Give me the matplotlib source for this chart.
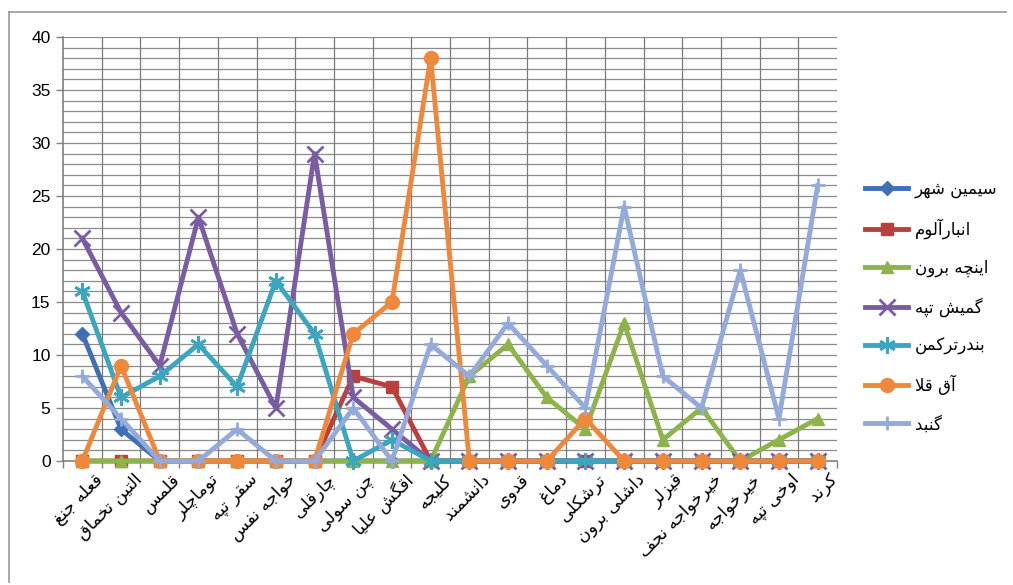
import matplotlib
matplotlib.use("Agg")
import matplotlib.pyplot as plt
from matplotlib.lines import Line2D

# ---------------- data ----------------
categories = ["قعله جنغ", "التین تخماق", "قلمس", "توماچلر", "سقر تپه", "خواجه نفس",
              "چارقلی", "چن سولی", "اقگش علیا", "کلیجه", "دانشمند", "قدوی", "دماغ",
              "ترشکلی", "داشلی برون", "قیزلر", "خیرخواجه نجف", "خیرخواجه", "اوخی تپه", "کرند"]

series_names = ["سیمین شهر", "انبارآلوم", "اینچه برون", "گمیش تپه", "بندرترکمن", "آق قلا", "گنبد"]

simin_shahr = [12, 3, 0, 0, 0, 0, 0, 0, 0, 0, 0, 0, 0, 0, 0, 0, 0, 0, 0, 0]
anbar_alum  = [0, 0, 0, 0, 0, 0, 0, 8, 7, 0, 0, 0, 0, 0, 0, 0, 0, 0, 0, 0]
incheh_borun = [0, 0, 0, 0, 0, 0, 0, 0, 0, 0, 8, 11, 6, 3, 13, 2, 5, 0, 2, 4]
gomishan    = [21, 14, 9, 23, 12, 5, 29, 6, 3, 0, 0, 0, 0, 0, 0, 0, 0, 0, 0, 0]
bandar_torkaman = [16, 6, 8, 11, 7, 17, 12, 0, 2, 0, 0, 0, 0, 0, 0, 0, 0, 0, 0, 0]
aq_qala     = [0, 9, 0, 0, 0, 0, 0, 12, 15, 38, 0, 0, 0, 4, 0, 0, 0, 0, 0, 0]
gonbad      = [8, 4, 0, 0, 3, 0, 0, 5, 0, 11, 8, 13, 9, 5, 24, 8, 5, 18, 4, 26]

y_ticks = [0, 5, 10, 15, 20, 25, 30, 35, 40]

# ---------------- simple Arabic/Persian shaping ----------------
FORMS = {
    'ا': ('\uFE8D', '\uFE8E', None, None), 'آ': ('\uFE81', '\uFE82', None, None),
    'ب': ('\uFE8F', '\uFE90', '\uFE91', '\uFE92'), 'پ': ('\uFB56', '\uFB57', '\uFB58', '\uFB59'),
    'ت': ('\uFE95', '\uFE96', '\uFE97', '\uFE98'), 'ث': ('\uFE99', '\uFE9A', '\uFE9B', '\uFE9C'),
    'ج': ('\uFE9D', '\uFE9E', '\uFE9F', '\uFEA0'), 'چ': ('\uFB7A', '\uFB7B', '\uFB7C', '\uFB7D'),
    'ح': ('\uFEA1', '\uFEA2', '\uFEA3', '\uFEA4'), 'خ': ('\uFEA5', '\uFEA6', '\uFEA7', '\uFEA8'),
    'د': ('\uFEA9', '\uFEAA', None, None), 'ذ': ('\uFEAB', '\uFEAC', None, None),
    'ر': ('\uFEAD', '\uFEAE', None, None), 'ز': ('\uFEAF', '\uFEB0', None, None),
    'ژ': ('\uFB8A', '\uFB8B', None, None),
    'س': ('\uFEB1', '\uFEB2', '\uFEB3', '\uFEB4'), 'ش': ('\uFEB5', '\uFEB6', '\uFEB7', '\uFEB8'),
    'ص': ('\uFEB9', '\uFEBA', '\uFEBB', '\uFEBC'), 'ض': ('\uFEBD', '\uFEBE', '\uFEBF', '\uFEC0'),
    'ط': ('\uFEC1', '\uFEC2', '\uFEC3', '\uFEC4'), 'ظ': ('\uFEC5', '\uFEC6', '\uFEC7', '\uFEC8'),
    'ع': ('\uFEC9', '\uFECA', '\uFECB', '\uFECC'), 'غ': ('\uFECD', '\uFECE', '\uFECF', '\uFED0'),
    'ف': ('\uFED1', '\uFED2', '\uFED3', '\uFED4'), 'ق': ('\uFED5', '\uFED6', '\uFED7', '\uFED8'),
    'ک': ('\uFB8E', '\uFB8F', '\uFB90', '\uFB91'), 'گ': ('\uFB92', '\uFB93', '\uFB94', '\uFB95'),
    'ل': ('\uFEDD', '\uFEDE', '\uFEDF', '\uFEE0'), 'م': ('\uFEE1', '\uFEE2', '\uFEE3', '\uFEE4'),
    'ن': ('\uFEE5', '\uFEE6', '\uFEE7', '\uFEE8'), 'ه': ('\uFEE9', '\uFEEA', '\uFEEB', '\uFEEC'),
    'و': ('\uFEED', '\uFEEE', None, None),
    'ی': ('\uFBFC', '\uFBFD', '\uFBFE', '\uFBFF'),
}
LAMALEF = {'ا': ('\uFEFB', '\uFEFC'), 'آ': ('\uFEF5', '\uFEF6')}


def dual(c):
    return c in FORMS and FORMS[c][2] is not None


def shape(text):
    chars = list(text)
    out = []
    i = 0
    n = len(chars)
    while i < n:
        c = chars[i]
        if c not in FORMS:
            out.append(c)
            i += 1
            continue
        prev_joins = i > 0 and dual(chars[i - 1])
        if c == 'ل' and i + 1 < n and chars[i + 1] in LAMALEF:
            iso, fin = LAMALEF[chars[i + 1]]
            out.append(fin if prev_joins else iso)
            i += 2
            continue
        next_joins = dual(c) and i + 1 < n and chars[i + 1] in FORMS
        iso, fin, ini, med = FORMS[c]
        if prev_joins and next_joins:
            out.append(med)
        elif prev_joins:
            out.append(fin)
        elif next_joins:
            out.append(ini)
        else:
            out.append(iso)
        i += 1
    return ''.join(reversed(out))


# ---------------- figure ----------------
plt.rcParams['font.family'] = ['DejaVu Sans']
fig = plt.figure(figsize=(10.13, 5.85), dpi=100)
ax = fig.add_axes([63 / 1013, 1 - 461 / 585, (837 - 63) / 1013, (461 - 37) / 585])

x = list(range(len(categories)))
styles = [
    (simin_shahr, '#3F6FB4', 'D', 7),
    (anbar_alum, '#B9403D', 's', 8),
    (incheh_borun, '#8DB449', '^', 9),
    (gomishan, '#7A5CA3', 'x', 11),
    (bandar_torkaman, '#3BA6C0', (6, 2, 0), 12),
    (aq_qala, '#F0883C', 'o', 10),
    (gonbad, '#93AADB', '+', 10),
]
handles = []
for (vals, col, mk, ms), name in zip(styles, series_names):
    mew = 2 if mk in ('x', '+') or isinstance(mk, tuple) else 1
    ax.plot(x, vals, color=col, lw=3.5, marker=mk, markersize=ms,
            markeredgewidth=mew, markeredgecolor=col, markerfacecolor=col,
            zorder=3, clip_on=False)
    handles.append(Line2D([0], [0], color=col, lw=3.5, marker=mk, markersize=ms,
                          markeredgewidth=mew, markeredgecolor=col, markerfacecolor=col))

ax.set_xlim(-0.5, len(categories) - 0.5)
ax.set_ylim(0, 40)

# grid: horizontal every unit, vertical at category boundaries
for v in range(1, 41):
    ax.axhline(v, color='#8c8c8c', lw=0.9, zorder=1)
for b in range(1, len(categories)):
    ax.axvline(b - 0.5, color='#7a7a7a', lw=0.9, zorder=1)

ax.set_yticks(y_ticks)
ax.set_yticklabels([str(t) for t in y_ticks], fontsize=12.5, family='Liberation Sans')
ax.tick_params(axis='y', length=5, width=1, color='#808080', pad=4)

ax.set_xticks([b - 0.5 for b in range(len(categories) + 1)])
ax.set_xticklabels([])
ax.tick_params(axis='x', length=5, width=1, color='#808080')
for xi, lab in zip(x, categories):
    ax.text(xi + 0.3, -0.9, shape(lab), rotation=45, ha='right', va='top',
            rotation_mode='anchor', fontsize=12.5, transform=ax.transData, clip_on=False)

for s in ['top', 'right']:
    ax.spines[s].set_visible(False)
ax.spines['left'].set_color('#808080')
ax.spines['bottom'].set_color('#808080')
ax.spines['left'].set_linewidth(1.2)
ax.spines['bottom'].set_linewidth(1.2)

fig.legend(handles, [shape(n) for n in series_names], loc='upper left',
           bbox_to_anchor=(850 / 1013, 1 - 165 / 585), frameon=False,
           fontsize=12, handlelength=2.6, labelspacing=1.2, handletextpad=0.4)

# chart border (top and left visible)
fig.add_artist(Line2D([9 / 1013, 1006 / 1013], [1 - 12 / 585, 1 - 12 / 585], color='#999999', lw=1.2))
fig.add_artist(Line2D([9 / 1013, 9 / 1013], [1 - 12 / 585, 0.005], color='#999999', lw=1.2))

fig.savefig('out.png', dpi=100)
